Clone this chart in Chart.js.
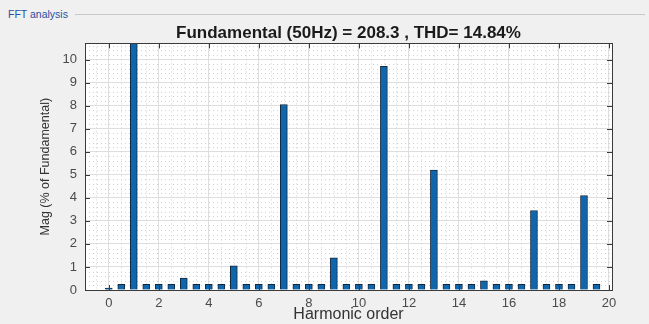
<!DOCTYPE html>
<html lang="en">
<head>
    <meta charset="UTF-8" />
    <title>FFT analysis</title>
    <script src="https://cdn.jsdelivr.net/npm/chart.js"></script>
    <style>
        body { margin: 0; background: #f0f0f0; font-family: "Liberation Sans", Arial, sans-serif; }
        #wrap { position: relative; width: 649px; height: 324px; overflow: hidden; }
        #panel { position: absolute; left: 8px; top: 8px; font-size: 10.5px; color: #2a4fa0; }
        #rule { position: absolute; left: 75px; right: 4px; top: 14px; border-top: 1px solid #c9c9c9; }
        canvas { position: absolute; left: 0; top: 0; }
    </style>
</head>
<body>
    <div id="wrap">
        <div id="panel">FFT analysis</div>
        <div id="rule"></div>
        <canvas id="chart" width="649" height="324"></canvas>
    </div>
    <script>
        "use strict";
        // harmonic orders (half steps) and magnitude in % of fundamental
        const harmonics = [0, 0.5, 1, 1.5, 2, 2.5, 3, 3.5, 4, 4.5, 5, 5.5, 6, 6.5, 7, 7.5, 8, 8.5, 9, 9.5,
            10, 10.5, 11, 11.5, 12, 12.5, 13, 13.5, 14, 14.5, 15, 15.5, 16, 16.5, 17, 17.5, 18, 18.5, 19, 19.5];
        const magnitudes = [0.08, 0.25, 100, 0.25, 0.25, 0.25, 0.52, 0.25, 0.25, 0.25, 1.05, 0.25, 0.25, 0.25, 8.05, 0.25, 0.25, 0.25, 1.4, 0.25,
            0.25, 0.25, 9.7, 0.25, 0.25, 0.25, 5.2, 0.25, 0.25, 0.25, 0.4, 0.25, 0.25, 0.25, 3.45, 0.25, 0.25, 0.25, 4.1, 0.25];
        const titleText = "Fundamental (50Hz) = 208.3 , THD= 14.84%";

        const points = harmonics.map((h, i) => ({ x: h, y: magnitudes[i] }));

        // white plot box, minor dotted grid, box outline and inward ticks (MATLAB look)
        const matlabAxes = {
            id: "matlabAxes",
            beforeDraw(chart) {
                const a = chart.chartArea;
                chart.ctx.save();
                chart.ctx.fillStyle = "#ffffff";
                chart.ctx.fillRect(a.left, a.top, a.right - a.left, a.bottom - a.top);
                chart.ctx.restore();
            },
            beforeDatasetsDraw(chart) {
                const ctx = chart.ctx, a = chart.chartArea;
                const xs = chart.scales.x, ys = chart.scales.y;
                ctx.save();
                ctx.strokeStyle = "#d2d2d2";
                ctx.lineWidth = 1;
                ctx.setLineDash([1, 3]);
                for (let v = -0.5; v < 20.1; v += 0.5) {
                    if (v % 2 === 0) continue;
                    const px = Math.round(xs.getPixelForValue(v)) + 0.5;
                    ctx.beginPath(); ctx.moveTo(px, a.top); ctx.lineTo(px, a.bottom); ctx.stroke();
                }
                for (let k = 1; k < 54; k++) {
                    const v = k * 0.2;
                    if (k % 5 === 0) continue;
                    const py = Math.round(ys.getPixelForValue(v)) + 0.5;
                    ctx.beginPath(); ctx.moveTo(a.left, py); ctx.lineTo(a.right, py); ctx.stroke();
                }
                ctx.restore();
            },
            afterDatasetsDraw(chart) {
                const ctx = chart.ctx, a = chart.chartArea;
                const xs = chart.scales.x, ys = chart.scales.y;
                ctx.save();
                ctx.strokeStyle = "#3a3a3a";
                ctx.lineWidth = 1;
                ctx.strokeRect(Math.round(a.left) + 0.5, Math.round(a.top) + 0.5,
                    Math.round(a.right - a.left), Math.round(a.bottom - a.top));
                const t = 5;
                xs.ticks.forEach(tk => {
                    const px = Math.round(xs.getPixelForValue(tk.value)) + 0.5;
                    ctx.beginPath();
                    ctx.moveTo(px, a.bottom); ctx.lineTo(px, a.bottom - t);
                    ctx.moveTo(px, a.top); ctx.lineTo(px, a.top + t);
                    ctx.stroke();
                });
                ys.ticks.forEach(tk => {
                    const py = Math.round(ys.getPixelForValue(tk.value)) + 0.5;
                    ctx.beginPath();
                    ctx.moveTo(a.left, py); ctx.lineTo(a.left + t, py);
                    ctx.moveTo(a.right, py); ctx.lineTo(a.right - t, py);
                    ctx.stroke();
                });
                ctx.restore();
            }
        };

        Chart.defaults.font.family = "'Liberation Sans', Arial, sans-serif";
        Chart.defaults.color = "#4a4a4a";

        const ctx = document.getElementById("chart").getContext("2d");
        new Chart(ctx, {
            type: "bar",
            data: {
                datasets: [{
                    data: points,
                    backgroundColor: "#0f66ac",
                    borderColor: "#13293f",
                    borderWidth: 1,
                    barThickness: 7,
                }],
            },
            options: {
                responsive: false,
                animation: false,
                devicePixelRatio: 1,
                layout: { padding: { left: 34, right: 37, top: 0, bottom: 0 } },
                plugins: {
                    legend: { display: false },
                    tooltip: { enabled: false },
                    title: {
                        display: true,
                        fullSize: false,
                        text: titleText,
                        color: "#1a1a1a",
                        font: { size: 17, weight: "bold" },
                        padding: { top: 23, bottom: 0 },
                    },
                },
                scales: {
                    x: {
                        type: "linear",
                        min: -0.95,
                        max: 20.12,
                        offset: false,
                        grid: { offset: false, color: "#dedede", drawTicks: false },
                        border: { display: false },
                        ticks: { stepSize: 2, includeBounds: false, padding: 6, font: { size: 13 }, maxRotation: 0 },
                        title: { display: true, text: "Harmonic order", font: { size: 16 }, color: "#333333", padding: { top: 0, bottom: 0 } },
                        afterFit(scale) { scale.height = 34; },
                    },
                    y: {
                        min: 0,
                        max: 10.7,
                        grid: { color: "#dedede", drawTicks: false },
                        border: { display: false },
                        ticks: { stepSize: 1, includeBounds: false, padding: 8, font: { size: 13 } },
                        title: { display: true, text: "Mag (% of Fundamental)", font: { size: 12.5 }, color: "#333333", padding: { top: 4, bottom: 0 } },
                        afterFit(scale) { scale.width = 51; },
                    },
                },
            },
            plugins: [matlabAxes],
        });
    </script>
</body>
</html>
